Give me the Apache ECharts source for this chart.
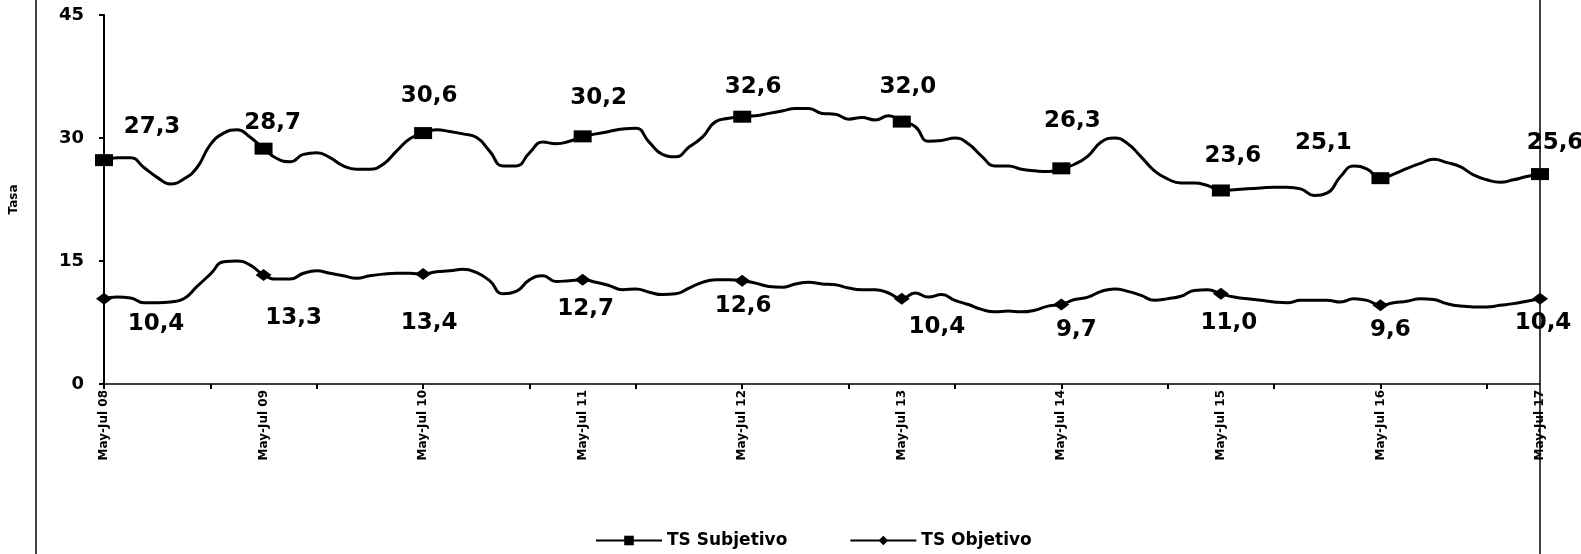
<!DOCTYPE html>
<html>
<head>
<meta charset="utf-8">
<script src="https://cdn.jsdelivr.net/npm/echarts@6/dist/echarts.min.js"></script>
<style>
html,body{margin:0;padding:0;background:#fff;}
#chart{width:1581px;height:554px;}
</style>
</head>
<body>
<div id="chart"></div>
<script>
// Moving-quarter periods, one per month, May-Jul 08 ... May-Jul 17
const periodNames = ['May-Jul','Jun-Ago','Jul-Sep','Ago-Oct','Sep-Nov','Oct-Dic','Nov-Ene','Dic-Feb','Ene-Mar','Feb-Abr','Mar-May','Abr-Jun'];
const years = ['08','09','10','11','12','13','14','15','16','17'];

const tsSubjetivo = [
  27.3, 27.6, 27.6, 26.4, 25.2, 24.4, 25.0, 26.4, 29.2, 30.6, 31.0, 30.1,
  28.7, 27.5, 27.1, 28.0, 28.2, 27.6, 26.6, 26.2, 26.2, 26.8, 28.4, 29.9,
  30.6, 31.0, 30.8, 30.5, 30.1, 28.4, 26.6, 26.6, 28.2, 29.5, 29.3, 29.6,
  30.2, 30.5, 30.8, 31.1, 31.2, 29.5, 28.0, 27.7, 28.9, 30.1, 32.0, 32.4,
  32.6, 32.7, 33.0, 33.3, 33.6, 33.6, 33.0, 32.9, 32.3, 32.5, 32.2, 32.7,
  32.0, 31.4, 29.6, 29.7, 30.0, 29.3, 27.8, 26.6, 26.6, 26.2, 26.0, 25.9,
  26.3, 26.8, 27.8, 29.5, 30.0, 29.3, 27.7, 26.0, 25.0, 24.5, 24.5, 24.2,
  23.6, 23.7, 23.8, 23.9, 24.0, 24.0, 23.8, 23.0, 23.3, 25.3, 26.6, 26.2,
  25.1, 25.6, 26.3, 26.9, 27.4, 27.0, 26.5, 25.5, 24.9, 24.6, 24.9, 25.3,
  25.6
];

const tsObjetivo = [
  10.4, 10.6, 10.5, 9.9, 9.9, 10.0, 10.4, 11.9, 13.4, 14.9, 15.0, 14.5,
  13.3, 12.8, 12.8, 13.5, 13.8, 13.5, 13.2, 12.9, 13.2, 13.4, 13.5, 13.5,
  13.4, 13.7, 13.8, 14.0, 13.6, 12.6, 11.0, 11.3, 12.7, 13.2, 12.5, 12.6,
  12.7, 12.4, 12.0, 11.5, 11.6, 11.2, 10.9, 11.0, 11.7, 12.4, 12.7, 12.7,
  12.6, 12.3, 11.9, 11.8, 12.2, 12.4, 12.2, 12.1, 11.7, 11.5, 11.5, 11.1,
  10.4, 11.1, 10.6, 10.9, 10.2, 9.7, 9.1, 8.8, 8.9, 8.8, 9.0, 9.5,
  9.7, 10.3, 10.6, 11.3, 11.6, 11.3, 10.8, 10.2, 10.4, 10.7, 11.4, 11.5,
  11.0, 10.6, 10.4, 10.2, 10.0, 9.9, 10.2, 10.2, 10.2, 10.0, 10.4, 10.2,
  9.6, 9.9, 10.1, 10.4, 10.3, 9.8, 9.5, 9.4, 9.4, 9.6, 9.8, 10.1,
  10.4
];

const yTicks = [0, 15, 30, 45];

// Label nudges (pixels) for the yearly value labels, in marker order
const subjLabelShift = [[48, 0], [9, 8], [6, -4], [16, -5], [11, 4], [6, -1], [11, -14], [12, -1], [-57, -2], [15, 2]];
const objLabelShift  = [[52, -2], [30, 16], [6, 21], [3, 2], [1, -2], [35, 1], [15, -2], [8, 2], [10, -3], [3, -3]];

// Category labels
const categories = [];
for (let i = 0; i < tsSubjetivo.length; i++) {
  categories.push(periodNames[i % 12] + ' ' + years[Math.floor(i / 12)]);
}

const fmt = p => p.value.toFixed(1).replace('.', ',');
const FONT = 'DejaVu Sans';

function buildData(arr, sym, size, shifts) {
  return arr.map((v, i) => i % 12 === 0
    ? { value: v, symbol: sym, symbolSize: size, label: { show: true, offset: shifts[i / 12] } }
    : { value: v, symbol: 'none' });
}

const chart = echarts.init(document.getElementById('chart'), null, { renderer: 'canvas' });
chart.setOption({
  animation: false,
  backgroundColor: '#fff',
  grid: { left: 102, right: 41, top: 15, bottom: 170, containLabel: false },
  xAxis: {
    type: 'category',
    data: categories,
    boundaryGap: false,
    axisLine: { lineStyle: { color: '#000', width: 1.5 } },
    axisTick: { show: true, interval: 7, length: 5, lineStyle: { color: '#000', width: 2 } },
    axisLabel: {
      interval: 11, rotate: 90, margin: 6,
      color: '#000', fontFamily: FONT, fontWeight: 'bold', fontSize: 12
    },
    splitLine: { show: false }
  },
  yAxis: {
    type: 'value',
    min: yTicks[0], max: yTicks[yTicks.length - 1], interval: 15,
    name: 'Tasa', nameLocation: 'middle', nameGap: 84, nameRotate: 90,
    nameTextStyle: { color: '#000', fontFamily: FONT, fontWeight: 'bold', fontSize: 12 },
    axisLine: { show: true, lineStyle: { color: '#000', width: 2 } },
    axisTick: { show: true, length: 5, lineStyle: { color: '#000', width: 2 } },
    axisLabel: { margin: 20, color: '#000', fontFamily: FONT, fontWeight: 'bold', fontSize: 18 },
    splitLine: { show: false }
  },
  legend: {
    bottom: 0, left: 590,
    itemWidth: 66, itemHeight: 12, itemGap: 62,
    textStyle: { color: '#000', fontFamily: FONT, fontWeight: 'bold', fontSize: 17 },
    data: ['TS Subjetivo', 'TS Objetivo']
  },
  graphic: [
    { type: 'line', shape: { x1: 36, y1: 0, x2: 36, y2: 554 }, style: { stroke: '#000', lineWidth: 1.5 } },
    { type: 'line', shape: { x1: 1540, y1: 0, x2: 1540, y2: 554 }, style: { stroke: '#000', lineWidth: 1.5 } }
  ],
  series: [
    {
      name: 'TS Subjetivo', type: 'line', smooth: 0.5,
      symbol: 'rect', symbolSize: [18, 12], showAllSymbol: true,
      lineStyle: { color: '#000', width: 3 },
      itemStyle: { color: '#000' },
      label: {
        show: false, position: 'top', distance: 16,
        formatter: fmt, color: '#000', fontFamily: FONT, fontWeight: 'bold', fontSize: 23
      },
      data: buildData(tsSubjetivo, 'rect', [18, 12], subjLabelShift)
    },
    {
      name: 'TS Objetivo', type: 'line', smooth: 0.5,
      symbol: 'diamond', symbolSize: [16, 12], showAllSymbol: true,
      lineStyle: { color: '#000', width: 3 },
      itemStyle: { color: '#000' },
      label: {
        show: false, position: 'bottom', distance: 10,
        formatter: fmt, color: '#000', fontFamily: FONT, fontWeight: 'bold', fontSize: 23
      },
      data: buildData(tsObjetivo, 'diamond', [16, 12], objLabelShift)
    }
  ]
});
</script>
</body>
</html>
